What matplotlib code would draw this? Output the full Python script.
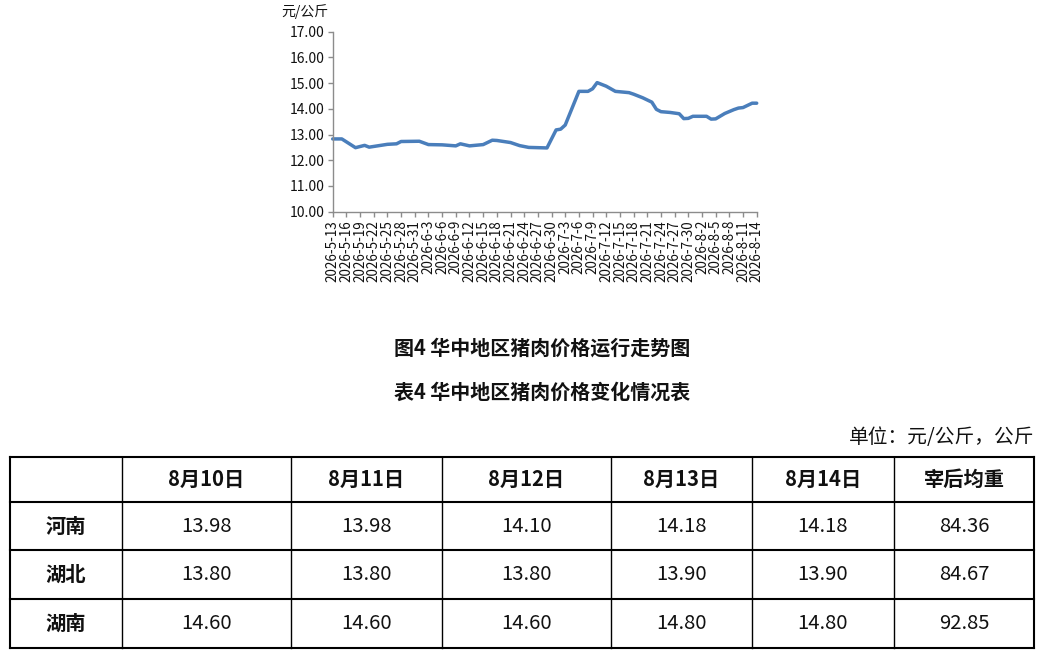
import matplotlib
matplotlib.use("Agg")
import matplotlib.pyplot as plt
import pandas as pd

plt.rcParams['font.family'] = ['Noto Sans CJK SC', 'DejaVu Sans']

# ---- chart data ----
dates = ["2026-05-13", "2026-05-15", "2026-05-18", "2026-05-20", "2026-05-21",
         "2026-05-25", "2026-05-27", "2026-05-28", "2026-06-01", "2026-06-03",
         "2026-06-06", "2026-06-09", "2026-06-10", "2026-06-12", "2026-06-15",
         "2026-06-17", "2026-06-18", "2026-06-21", "2026-06-23", "2026-06-25",
         "2026-06-29", "2026-07-01", "2026-07-02", "2026-07-03", "2026-07-06",
         "2026-07-08", "2026-07-09", "2026-07-10", "2026-07-12", "2026-07-14",
         "2026-07-17", "2026-07-18", "2026-07-20", "2026-07-22", "2026-07-23",
         "2026-07-24", "2026-07-26", "2026-07-28", "2026-07-29", "2026-07-30",
         "2026-07-31", "2026-08-03", "2026-08-04", "2026-08-05", "2026-08-07",
         "2026-08-09", "2026-08-10", "2026-08-11", "2026-08-13", "2026-08-14"]
prices = [12.83, 12.83, 12.49, 12.58, 12.51,
          12.62, 12.64, 12.73, 12.74, 12.61,
          12.60, 12.56, 12.64, 12.56, 12.61,
          12.78, 12.77, 12.69, 12.57, 12.50,
          12.48, 13.18, 13.21, 13.37, 14.68,
          14.68, 14.78, 15.02, 14.88, 14.68,
          14.63, 14.57, 14.43, 14.26, 13.98,
          13.89, 13.86, 13.81, 13.62, 13.63,
          13.71, 13.71, 13.60, 13.61, 13.82,
          13.97, 14.03, 14.05, 14.22, 14.22]

tick_labels = ["2026-5-13", "2026-5-16", "2026-5-19", "2026-5-22", "2026-5-25",
               "2026-5-28", "2026-5-31", "2026-6-3", "2026-6-6", "2026-6-9",
               "2026-6-12", "2026-6-15", "2026-6-18", "2026-6-21", "2026-6-24",
               "2026-6-27", "2026-6-30", "2026-7-3", "2026-7-6", "2026-7-9",
               "2026-7-12", "2026-7-15", "2026-7-18", "2026-7-21", "2026-7-24",
               "2026-7-27", "2026-7-30", "2026-8-2", "2026-8-5", "2026-8-8",
               "2026-8-11", "2026-8-14"]
y_ticks = [10, 11, 12, 13, 14, 15, 16, 17]
y_unit = "元/公斤"

# ---- table data ----
fig_title = "图4 华中地区猪肉价格运行走势图"
table_title = "表4 华中地区猪肉价格变化情况表"
unit_text = "单位：元/公斤，公斤"
col_headers = ["8月10日", "8月11日", "8月12日", "8月13日", "8月14日", "宰后均重"]
regions = ["河南", "湖北", "湖南"]
henan = ["13.98", "13.98", "14.10", "14.18", "14.18", "84.36"]
hubei = ["13.80", "13.80", "13.80", "13.90", "13.90", "84.67"]
hunan = ["14.60", "14.60", "14.60", "14.80", "14.80", "92.85"]
table_rows = [henan, hubei, hunan]

W, H = 1053, 655
fig = plt.figure(figsize=(W / 100, H / 100), dpi=100)
fig.patch.set_facecolor("white")

# overlay in pixel coordinates for titles and table
ov = fig.add_axes([0, 0, 1, 1])
ov.set_xlim(0, W)
ov.set_ylim(H, 0)
ov.axis("off")
ov.patch.set_alpha(0)

# ---- line chart ----
ax_l, ax_r, ax_t, ax_b = 332.7, 756.7, 31.7, 211.7
ax = fig.add_axes([ax_l / W, 1 - ax_b / H, (ax_r - ax_l) / W, (ax_b - ax_t) / H])
ax.patch.set_alpha(0)
x = pd.to_datetime(dates)
ax.plot(x, prices, color="#4a7ebb", lw=2.5, solid_joinstyle="round",
        solid_capstyle="round", clip_on=False)
tick_pos = pd.to_datetime(["2026-" + t.split("-", 1)[1] for t in tick_labels])
ax.set_xlim(tick_pos[0], tick_pos[-1])
ax.set_xticks(tick_pos)
ax.set_xticklabels(tick_labels, rotation=90, fontsize=9.7, color="#111111")
ax.set_ylim(10, 17)
ax.set_yticks(y_ticks)
ax.set_yticklabels([f"{v:.2f}" for v in y_ticks], fontsize=10, color="#111111")
for s in ["top", "right"]:
    ax.spines[s].set_visible(False)
for s in ["left", "bottom"]:
    ax.spines[s].set_color("#8c8c8c")
    ax.spines[s].set_linewidth(1.0)
ax.tick_params(axis="both", direction="out", length=3.5, width=1.0,
               color="#8c8c8c", pad=2.5)

ov.text(305, 12, y_unit, fontsize=10, ha="center", va="center", color="#111111")

# ---- titles ----
ov.text(542, 348, fig_title, fontsize=14.4, fontweight="bold", ha="center",
        va="center", color="#111111")
ov.text(542, 392, table_title, fontsize=14.4, fontweight="bold", ha="center",
        va="center", color="#111111")
ov.text(1034, 437, unit_text, fontsize=14.2, ha="right", va="center", color="#111111")

# ---- table ----
xe = [9.5, 121.7, 290.5, 441.8, 610.6, 751.8, 894.0, 1034.0]
ye = [457.0, 501.7, 550.3, 599.0, 647.7]
for i, xv in enumerate(xe):
    lw = 1.5 if i in (0, len(xe) - 1) else 1.0
    ov.plot([xv, xv], [ye[0], ye[-1]], color="black", lw=lw, solid_capstyle="projecting")
for j, yv in enumerate(ye):
    ov.plot([xe[0], xe[-1]], [yv, yv], color="black", lw=1.5, solid_capstyle="projecting")

for c, h in enumerate(col_headers):
    ov.text((xe[c + 1] + xe[c + 2]) / 2, (ye[0] + ye[1]) / 2, h, fontsize=14.6,
            fontweight="bold", ha="center", va="center", color="#111111")
for r, name in enumerate(regions):
    yc = (ye[r + 1] + ye[r + 2]) / 2
    ov.text((xe[0] + xe[1]) / 2, yc, name, fontsize=14.6, fontweight="bold",
            ha="center", va="center", color="#111111")
    for c, val in enumerate(table_rows[r]):
        ov.text((xe[c + 1] + xe[c + 2]) / 2, yc, val, fontsize=14.6,
                ha="center", va="center", color="#111111")

fig.savefig("out.png", dpi=100, facecolor="white")
